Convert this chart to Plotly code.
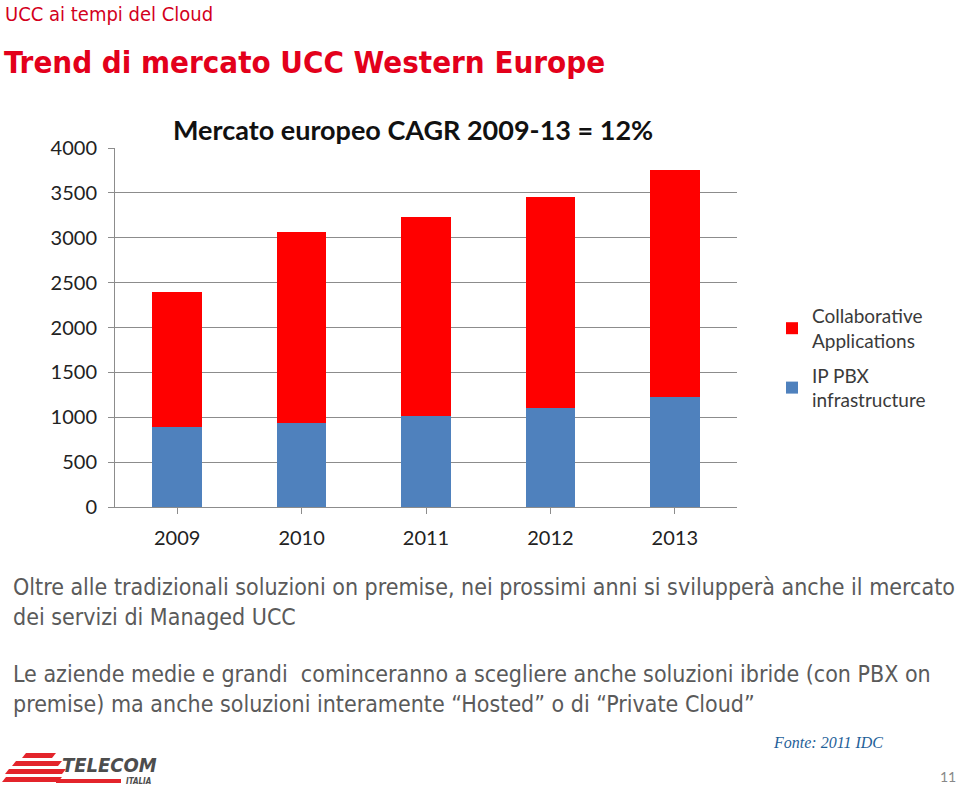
import plotly.graph_objects as go

W, H = 960, 786

years = ["2009", "2010", "2011", "2012", "2013"]
ip_pbx = [895, 940, 1015, 1108, 1227]
collaborative = [1505, 2127, 2215, 2349, 2528]
series_names = ["IP PBX<br>infrastructure", "Collaborative<br>Applications"]
y_ticks = [0, 500, 1000, 1500, 2000, 2500, 3000, 3500, 4000]

chart_title = "Mercato europeo CAGR 2009-13 = 12%"
header = "UCC ai tempi del Cloud"
slide_title = "Trend di mercato UCC Western Europe"
body_lines = [
    "Oltre alle tradizionali soluzioni on premise, nei prossimi anni si svilupperà anche il mercato",
    "dei servizi di Managed UCC",
    "Le aziende medie e grandi  cominceranno a scegliere anche soluzioni ibride (con PBX on",
    "premise) ma anche soluzioni interamente “Hosted” o di “Private Cloud”",
]
source = "Fonte: 2011 IDC"
page_no = "11"


def px(x):
    return x / W


def py(y):
    return 1 - y / H


CAL = "Lato, 'Open Sans', sans-serif"
NARROW = "'Liberation Sans Narrow', 'DejaVu Sans Condensed', Roboto, sans-serif"

fig = go.Figure()
fig.add_trace(go.Bar(x=years, y=ip_pbx, name=series_names[0], marker_color="#4f81bd",
                     legendgroup="a", legendrank=2))
fig.add_trace(go.Bar(x=years, y=collaborative, name=series_names[1], marker_color="#ff0000",
                     legendgroup="b", legendrank=1))

fig.update_layout(
    template="none",
    width=W, height=H,
    margin=dict(l=0, r=0, t=0, b=0, autoexpand=False),
    paper_bgcolor="white", plot_bgcolor="white",
    barmode="stack", bargap=0.6,
    showlegend=True,
    legend=dict(x=px(772), y=py(297), xanchor="left", yanchor="top",
                traceorder="grouped", tracegroupgap=7,
                font=dict(family=CAL, size=19, color="#3a3a3a"),
                bgcolor="rgba(0,0,0,0)"),
    xaxis=dict(domain=[px(115), px(737)], showline=True, linecolor="#8c8c8c", automargin=False,
               showgrid=False, zeroline=False,
               ticks="outside", tickson="boundaries", ticklen=6, tickcolor="#8c8c8c",
               tickfont=dict(family=CAL, size=20, color="#222"), ticklabelstandoff=7),
    yaxis=dict(domain=[py(507), py(148)], range=[0, 4000], tickvals=y_ticks, automargin=False,
               showline=True, linecolor="#8c8c8c", showgrid=True, gridcolor="#8c8c8c", gridwidth=1,
               ticks="outside", ticklen=6, tickcolor="#8c8c8c",
               tickfont=dict(family=CAL, size=20, color="#222"), ticklabelstandoff=7,
               zeroline=False),
)

ann = []
ann.append(dict(text="<b>" + chart_title + "</b>", x=px(413), y=py(130), xanchor="center", yanchor="middle",
                font=dict(family=CAL, size=27, color="#111")))
ann.append(dict(text=header, x=px(3), y=py(14), xanchor="left", yanchor="middle",
                font=dict(family=NARROW, size=20, color="#d3001c")))
ann.append(dict(text="<b>" + slide_title + "</b>", x=px(2), y=py(62), xanchor="left", yanchor="middle",
                font=dict(family=NARROW, size=31, color="#e3001b")))
for t, y in zip(body_lines, [587, 617, 674, 704]):
    ann.append(dict(text=t, x=px(11), y=py(y), xanchor="left", yanchor="middle",
                    font=dict(family=NARROW, size=23, color="#5a5a5a")))
ann.append(dict(text="<i>" + source + "</i>", x=px(771), y=py(742), xanchor="left", yanchor="middle",
                font=dict(family="'Liberation Serif', serif", size=16, color="#1f5f99")))
ann.append(dict(text=page_no, x=px(958), y=py(776), xanchor="right", yanchor="middle",
                font=dict(family=CAL, size=14, color="#888")))
ann.append(dict(text="<b><i>TELECOM</i></b>", x=px(60), y=py(765), xanchor="left", yanchor="middle",
                font=dict(family=NARROW, size=20, color="#4d4d4d")))
ann.append(dict(text="<b><i>ITALIA</i></b>", x=px(124), y=py(781), xanchor="left", yanchor="middle",
                font=dict(family=NARROW, size=8, color="#4d4d4d")))
for a in ann:
    a.update(xref="paper", yref="paper", showarrow=False)
fig.update_layout(annotations=ann)

# Telecom logo stripes (decoration)
shapes = []
stripes = [(753, 22, 52), (761, 12, 58), (769, 5, 62), (777, 2, 58)]
for y0, xa, xb in stripes:
    path = "M{},{} L{},{} L{},{} L{},{} Z".format(
        px(xa + 4), py(y0), px(xb + 4), py(y0), px(xb), py(y0 + 5), px(xa), py(y0 + 5))
    shapes.append(dict(type="path", path=path, xref="paper", yref="paper",
                       fillcolor="#e3242b", line=dict(width=0)))
shapes.append(dict(type="rect", x0=px(56), x1=px(121), y0=py(783), y1=py(779),
                   xref="paper", yref="paper", fillcolor="#e3242b", line=dict(width=0)))
fig.update_layout(shapes=shapes)

post = "document.body.style.margin='0';document.body.style.overflow='hidden';"

fig.write_html("out.html", config={"displayModeBar": False}, post_script=post)
